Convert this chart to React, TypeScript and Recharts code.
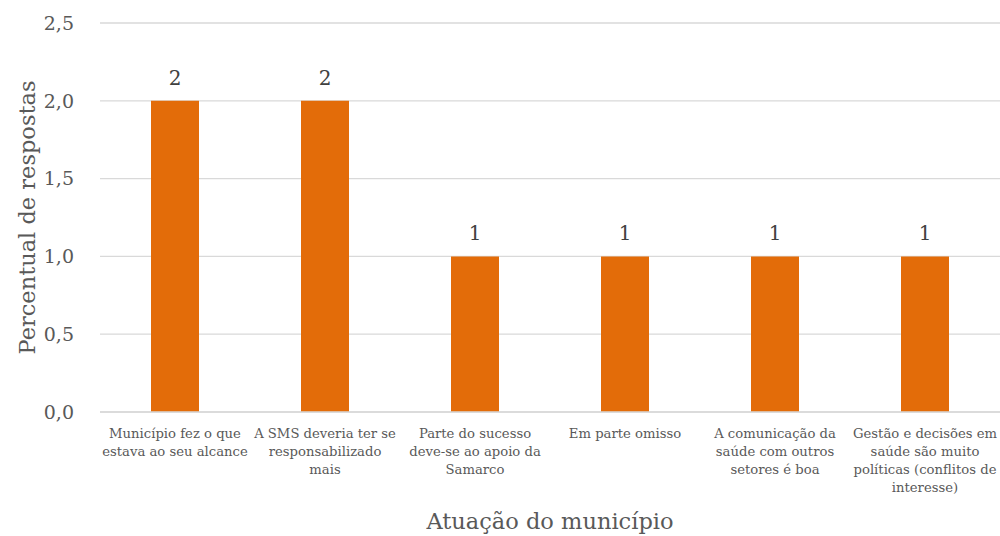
import { BarChart, Bar, XAxis, YAxis, CartesianGrid, LabelList, Label } from 'recharts'

const categories = [
  'Município fez o que\nestava ao seu alcance',
  'A SMS deveria ter se\nresponsabilizado\nmais',
  'Parte do sucesso\ndeve-se ao apoio da\nSamarco',
  'Em parte omisso',
  'A comunicação da\nsaúde com outros\nsetores é boa',
  'Gestão e decisões em\nsaúde são muito\npolíticas (conflitos de\ninteresse)',
]
const values = [2, 2, 1, 1, 1, 1]
const yTicks = [0, 0.5, 1, 1.5, 2, 2.5]

const data = categories.map((name, i) => ({ name, value: values[i] }))

const FONT = '"DejaVu Serif", serif'
const TEXT = '#595959'

function CategoryTick(props: any) {
  const { x, y, payload } = props
  const lines = String(payload.value).split('\n')
  return (
    <text x={x} y={y + 18} textAnchor="middle" fontFamily={FONT} fontSize={13.2} fill={TEXT}>
      {lines.map((line, i) => (
        <tspan key={i} x={x} dy={i === 0 ? 0 : 18}>
          {line}
        </tspan>
      ))}
    </text>
  )
}

function YTitle(props: any) {
  const vb = props.viewBox
  const cx = 27
  const cy = vb.y + vb.height / 2
  return (
    <text x={cx} y={cy} transform={`rotate(-90, ${cx}, ${cy})`} textAnchor="middle" dominantBaseline="central" fontFamily={FONT} fontSize={22.5} fill={TEXT}>
      Percentual de respostas
    </text>
  )
}

export default function App() {
  return (
    <div style={{ position: 'absolute', left: 0, top: 0, width: 1000, height: 536, background: '#fff' }}>
      <BarChart width={1000} height={536} data={data} margin={{ top: 23, right: 0, bottom: 0, left: 0 }}>
        <CartesianGrid vertical={false} stroke="#d9d9d9" strokeWidth={1.3} />
        <XAxis
          dataKey="name"
          height={124}
          interval={0}
          tickLine={false}
          axisLine={{ stroke: '#d9d9d9', strokeWidth: 1.3 }}
          tick={<CategoryTick />}
        >
          <Label value="Atuação do município" position="insideBottom" offset={7} fontFamily={FONT} fontSize={22.5} fill={TEXT} />
        </XAxis>
        <YAxis
          width={100}
          domain={[0, 2.5]}
          ticks={yTicks}
          tickLine={false}
          axisLine={false}
          tickMargin={20}
          tickFormatter={(v: number) => v.toFixed(1).replace('.', ',')}
          tick={{ fontFamily: FONT, fontSize: 19, fill: TEXT }}
        >
          <Label content={<YTitle />} />
        </YAxis>
        <Bar dataKey="value" fill="#e36c09" barSize={48} isAnimationActive={false}>
          <LabelList dataKey="value" position="top" offset={16} fontFamily={FONT} fontSize={20} fill="#404040" />
        </Bar>
      </BarChart>
    </div>
  )
}
